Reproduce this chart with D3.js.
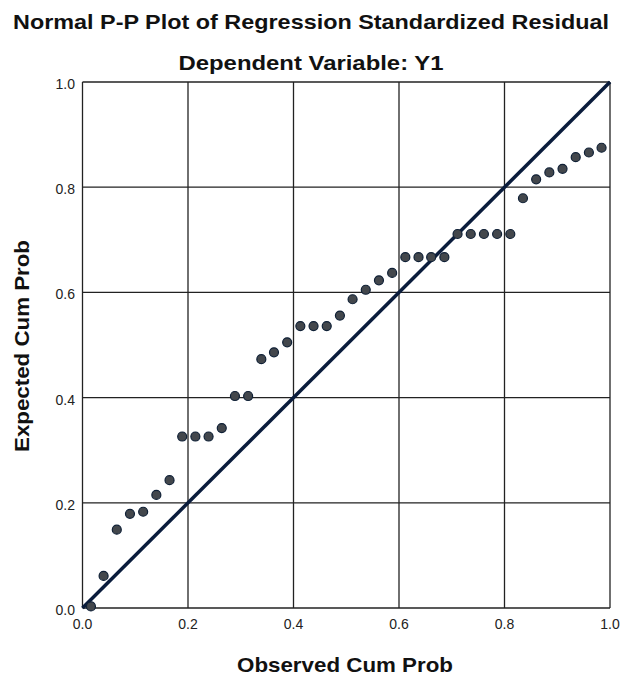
<!DOCTYPE html>
<html>
<head>
<meta charset="utf-8">
<script src="https://cdn.jsdelivr.net/npm/d3@7"></script>
<style>
  body { margin: 0; background: #fff; }
  svg { display: block; font-family: "Liberation Sans", Arial, sans-serif; }
  .tick-label { font-size: 14px; fill: #222; }
  .axis-title { font-size: 21px; font-weight: bold; fill: #111; }
  .chart-title { font-size: 21px; font-weight: bold; fill: #111; }
</style>
</head>
<body>
<div id="chart"></div>
<script>
// Observed cumulative probability (x) for each of the 40 residuals
const observedCumProb = [
  0.016, 0.040, 0.065, 0.090, 0.115, 0.140, 0.165, 0.189, 0.214, 0.239,
  0.264, 0.289, 0.314, 0.339, 0.363, 0.388, 0.413, 0.438, 0.463, 0.488,
  0.512, 0.537, 0.562, 0.587, 0.612, 0.637, 0.661, 0.686, 0.711, 0.736,
  0.761, 0.786, 0.811, 0.835, 0.860, 0.885, 0.910, 0.935, 0.960, 0.984
];

// Expected cumulative probability (y)
const expectedCumProb = [
  0.003, 0.061, 0.149, 0.179, 0.183, 0.215, 0.243, 0.326, 0.326, 0.326,
  0.342, 0.403, 0.403, 0.473, 0.486, 0.505, 0.536, 0.536, 0.536, 0.556,
  0.587, 0.605, 0.623, 0.637, 0.667, 0.667, 0.667, 0.667, 0.711, 0.711,
  0.711, 0.711, 0.711, 0.779, 0.815, 0.828, 0.835, 0.857, 0.866, 0.875
];

const tickValues = [0, 0.2, 0.4, 0.6, 0.8, 1.0];
const referenceLine = [0, 1];

const titleText = "Normal P-P Plot of Regression Standardized Residual";
const subtitleText = "Dependent Variable: Y1";
const xTitle = "Observed Cum Prob";
const yTitle = "Expected Cum Prob";

const W = 624, H = 681;
const plot = { left: 82.5, top: 82, right: 610, bottom: 608 };

const svg = d3.select("#chart").append("svg")
  .attr("width", W)
  .attr("height", H);

const x = d3.scaleLinear().domain([0, 1]).range([plot.left, plot.right]);
const y = d3.scaleLinear().domain([0, 1]).range([plot.bottom, plot.top]);

// titles (the original text is a little wider than the font, so stretch it)
svg.append("text")
  .attr("class", "chart-title")
  .attr("x", 311).attr("y", 29)
  .attr("text-anchor", "middle")
  .attr("textLength", 596)
  .attr("lengthAdjust", "spacingAndGlyphs")
  .text(titleText);

svg.append("text")
  .attr("class", "chart-title")
  .attr("x", 311).attr("y", 70)
  .attr("text-anchor", "middle")
  .attr("textLength", 265)
  .attr("lengthAdjust", "spacingAndGlyphs")
  .text(subtitleText);

// grid lines
svg.append("g")
  .selectAll("line")
  .data(tickValues)
  .join("line")
  .attr("x1", d => x(d)).attr("x2", d => x(d))
  .attr("y1", plot.top).attr("y2", plot.bottom)
  .attr("stroke", "#222")
  .attr("stroke-width", 1.3);

svg.append("g")
  .selectAll("line")
  .data(tickValues)
  .join("line")
  .attr("x1", plot.left).attr("x2", plot.right)
  .attr("y1", d => y(d)).attr("y2", d => y(d))
  .attr("stroke", "#222")
  .attr("stroke-width", 1.3);

// tick labels
svg.append("g")
  .selectAll("text")
  .data(tickValues)
  .join("text")
  .attr("class", "tick-label")
  .attr("x", d => x(d))
  .attr("y", plot.bottom + 21)
  .attr("text-anchor", "middle")
  .text(d3.format(".1f"));

svg.append("g")
  .selectAll("text")
  .data(tickValues)
  .join("text")
  .attr("class", "tick-label")
  .attr("x", plot.left - 7.5)
  .attr("y", d => y(d) + 7)
  .attr("text-anchor", "end")
  .text(d3.format(".1f"));

// axis titles
svg.append("text")
  .attr("class", "axis-title")
  .attr("x", 345).attr("y", 672)
  .attr("text-anchor", "middle")
  .attr("textLength", 216)
  .attr("lengthAdjust", "spacingAndGlyphs")
  .text(xTitle);

svg.append("text")
  .attr("class", "axis-title")
  .attr("transform", "translate(29,346) rotate(-90)")
  .attr("text-anchor", "middle")
  .attr("textLength", 212)
  .attr("lengthAdjust", "spacingAndGlyphs")
  .text(yTitle);

// diagonal reference line
svg.append("line")
  .attr("x1", x(referenceLine[0])).attr("y1", y(referenceLine[0]))
  .attr("x2", x(referenceLine[1])).attr("y2", y(referenceLine[1]))
  .attr("stroke", "#0a1c3c")
  .attr("stroke-width", 3.5);

// points
svg.append("g")
  .selectAll("circle")
  .data(observedCumProb.map((d, i) => [d, expectedCumProb[i]]))
  .join("circle")
  .attr("cx", d => x(d[0]))
  .attr("cy", d => y(d[1]))
  .attr("r", 4.5)
  .attr("fill", "#43474c")
  .attr("stroke", "#0f2036")
  .attr("stroke-width", 1.2);
</script>
</body>
</html>
